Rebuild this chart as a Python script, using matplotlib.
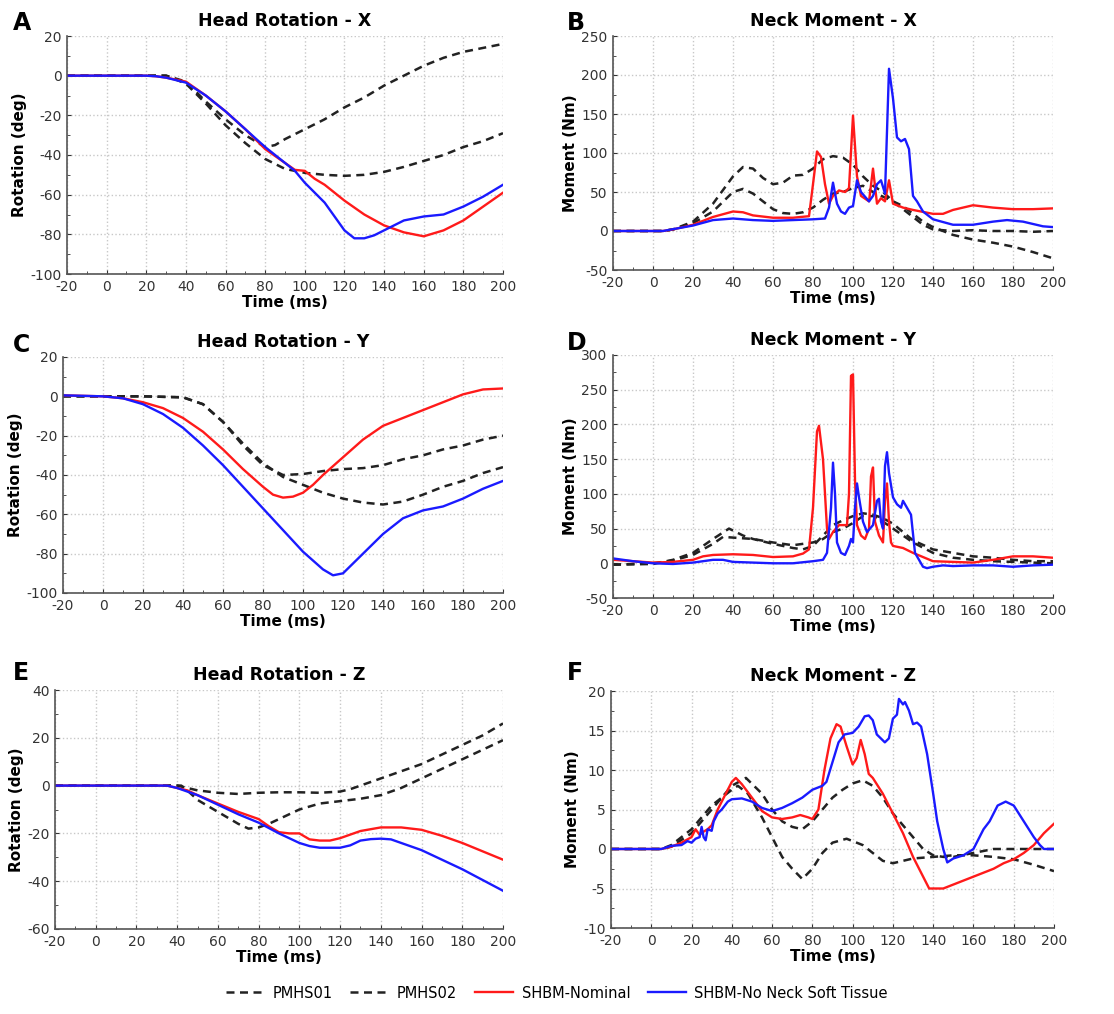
import numpy as np
import matplotlib
matplotlib.use("Agg")
import matplotlib.pyplot as plt
from matplotlib.ticker import MultipleLocator

# ---- data (time in ms) ----
# A : head rotation X
a_p1_t = [-20, 0, 20, 30, 40, 50, 60, 70, 80, 85, 90, 100, 110, 120, 130, 140, 150, 160, 170, 180, 190, 200]
a_p1_v = [0, 0, 0, 0, -3, -13, -22, -30, -36, -35, -32, -27, -22, -16, -11, -5, 0, 5, 9, 12, 14, 16]
a_p2_t = [-20, 0, 20, 30, 40, 50, 60, 70, 80, 90, 100, 110, 120, 130, 140, 150, 160, 170, 180, 190, 200]
a_p2_v = [0, 0, 0, 0, -4, -14, -25, -34, -42, -47, -49, -50, -50.5, -50, -48.5, -46, -43, -40, -36, -33, -29]
a_red_t = [-20, 0, 20, 25, 30, 40, 50, 60, 70, 80, 90, 95, 100, 105, 110, 120, 130, 140, 150, 160, 170, 180, 190, 200]
a_red_v = [0, 0, 0, -0.3, -1, -3, -10, -18, -27, -37, -44, -47.5, -48, -52, -55, -63, -70, -75.5, -79, -81, -78, -73, -66, -59]
a_blue_t = [-20, 0, 20, 25, 30, 40, 50, 60, 70, 80, 90, 95, 100, 110, 115, 120, 125, 130, 135, 140, 150, 160, 170, 180, 190, 200]
a_blue_v = [0, 0, 0, -0.3, -1, -3.5, -10, -18, -27, -36, -44, -48, -54, -64, -71, -78, -82, -82, -80.5, -78, -73, -71, -70, -66, -61, -55]

# B : neck moment X
b_p1_t = [-20, 5, 10, 20, 30, 40, 45, 50, 55, 60, 65, 70, 75, 80, 85, 90, 95, 100, 105, 110, 115, 120, 125, 130, 135, 140, 150, 160, 170, 180, 190, 200]
b_p1_v = [0, 0, 2, 12, 35, 70, 82, 80, 68, 60, 62, 71, 72, 80, 92, 96, 94, 85, 70, 58, 50, 38, 28, 18, 8, 2, 0, 1, 0, 0, -1, 0]
b_p2_t = [-20, 5, 10, 20, 30, 40, 45, 50, 55, 60, 65, 70, 75, 80, 85, 90, 95, 100, 105, 110, 115, 120, 125, 130, 135, 140, 150, 160, 170, 180, 190, 200]
b_p2_v = [0, 0, 2, 10, 25, 50, 54, 48, 38, 28, 23, 22, 24, 30, 40, 48, 50, 55, 58, 50, 44, 38, 32, 22, 12, 5, -5, -11, -15, -20, -27, -35]
b_red_t = [-20, 5, 10, 20, 30, 40, 45, 50, 60, 70, 78, 80, 82, 84, 86, 88, 90, 93, 96, 98, 100, 102, 104, 108, 110, 112, 114, 116, 118, 120, 125, 130, 140, 145, 150, 160, 170, 180, 190, 200]
b_red_v = [0, 0, 2, 8, 18, 25, 24, 20, 17, 17, 19, 60, 102, 95, 60, 35, 45, 52, 50, 55, 148, 70, 45, 38, 80, 35, 42, 38, 65, 35, 30, 27, 22, 22, 27, 33, 30, 28, 28, 29]
b_blue_t = [-20, 5, 20, 30, 40, 50, 60, 70, 80, 86, 88, 90, 92, 94, 96, 98, 100, 102, 104, 108, 110, 112, 114, 116, 118, 120, 122, 124, 126, 128, 130, 132, 135, 140, 150, 160, 170, 177, 185, 195, 200]
b_blue_v = [0, 0, 7, 14, 16, 14, 13, 14, 15, 16, 30, 62, 35, 25, 22, 30, 32, 65, 50, 38, 45, 60, 65, 48, 208, 170, 120, 115, 118, 105, 45, 38, 25, 15, 8, 8, 12, 14, 12, 6, 5]

# C : head rotation Y
c_p1_t = [-20, 0, 20, 40, 50, 60, 70, 80, 90, 100, 110, 120, 130, 140, 150, 160, 170, 180, 190, 200]
c_p1_v = [0, 0, 0, -0.5, -4, -13, -25, -35, -40, -39.5, -38, -37, -36.5, -35, -32, -30, -27, -25, -22, -20]
c_p2_t = [-20, 0, 20, 40, 50, 60, 70, 80, 90, 100, 110, 120, 130, 140, 150, 160, 170, 180, 190, 200]
c_p2_v = [0, 0, 0, -0.5, -4, -13, -24, -34, -41, -45, -49, -52, -54, -55, -53.5, -50, -46, -43, -39, -36]
c_red_t = [-20, 0, 10, 20, 30, 40, 50, 60, 70, 80, 85, 90, 95, 100, 105, 110, 120, 130, 140, 150, 160, 170, 180, 190, 200]
c_red_v = [0.5, 0, -1, -3, -6, -11, -18, -27, -37, -46, -50, -51.5, -51, -49, -45, -40, -31, -22, -15, -11, -7, -3, 1, 3.5, 4]
c_blue_t = [-20, 0, 10, 20, 30, 40, 50, 60, 70, 80, 90, 100, 110, 115, 120, 125, 130, 140, 150, 160, 170, 180, 190, 200]
c_blue_v = [0.5, 0, -1, -4, -9, -16, -25, -35, -46, -57, -68, -79, -88, -91, -90, -85, -80, -70, -62, -58, -56, -52, -47, -43]

# D : neck moment Y
d_p1_t = [-20, 0, 10, 20, 30, 38, 45, 50, 60, 70, 75, 80, 85, 90, 95, 100, 105, 110, 115, 120, 125, 130, 140, 150, 160, 170, 180, 190, 200]
d_p1_v = [-2, -1, 5, 15, 35, 50, 40, 35, 28, 22, 20, 25, 40, 55, 62, 68, 72, 70, 65, 57, 45, 33, 20, 15, 10, 8, 5, 3, 3]
d_p2_t = [-20, 0, 10, 20, 30, 35, 40, 50, 60, 70, 80, 85, 90, 95, 100, 105, 110, 115, 120, 125, 130, 140, 150, 160, 170, 180, 190, 200]
d_p2_v = [-2, 0, 4, 12, 28, 38, 37, 35, 30, 26, 30, 35, 45, 50, 58, 68, 68, 60, 50, 40, 30, 15, 8, 5, 3, 2, 1, 0]
d_red_t = [-20, 0, 10, 20, 25, 30, 40, 50, 60, 70, 75, 78, 80, 82, 83, 85, 87, 88, 90, 93, 97, 98, 99, 100, 101, 102, 104, 106, 108, 109, 110, 111, 113, 115, 116, 117, 118, 119, 120, 125, 130, 140, 150, 160, 170, 180, 190, 200]
d_red_v = [5, 1, 2, 5, 10, 12, 13, 12, 9, 10, 14, 20, 80, 190, 198, 150, 50, 35, 45, 55, 55, 100, 270, 272, 120, 55, 40, 35, 50, 125, 138, 60, 40, 30, 90, 115, 60, 30, 25, 22, 15, 3, 2, 1, 5, 10, 10, 8]
d_blue_t = [-20, -10, 0, 10, 20, 30, 35, 40, 50, 60, 70, 80, 85, 87, 89, 90, 91, 92, 94, 96, 98, 99, 100, 101, 102, 103, 105, 107, 110, 112, 113, 114, 115, 116, 117, 118, 120, 122, 124, 125, 127, 129, 131, 133, 135, 137, 140, 145, 150, 160, 170, 180, 190, 200]
d_blue_v = [7, 3, 0, -1, 1, 5, 5, 2, 1, 0, 0, 3, 5, 15, 80, 145, 100, 30, 15, 12, 25, 35, 30, 80, 115, 95, 60, 45, 55, 90, 93, 60, 50, 140, 160, 130, 95, 85, 80, 90, 80, 70, 15, 5, -5, -7, -5, -3, -4, -3, -3, -5, -3, -2]

# E : head rotation Z
e_p1_t = [-20, 0, 20, 40, 45, 50, 60, 70, 80, 90, 100, 110, 120, 125, 130, 140, 150, 160, 170, 180, 190, 200]
e_p1_v = [0, 0, 0, 0, -1, -2, -3, -3.5, -3, -2.8, -2.8, -3, -2.5, -1.5, 0, 3, 6, 9, 13, 17, 21, 26]
e_p2_t = [-20, 0, 20, 42, 45, 50, 60, 70, 75, 80, 85, 90, 100, 110, 120, 130, 140, 150, 160, 170, 180, 190, 200]
e_p2_v = [0, 0, 0, 0, -2, -6, -11, -16, -18, -17.5, -16, -14, -10, -7.5, -6.5, -5.5, -4, -1, 3, 7, 11, 15, 19]
e_red_t = [-20, 0, 20, 35, 40, 45, 50, 60, 70, 80, 85, 90, 95, 100, 103, 105, 110, 115, 120, 130, 140, 150, 160, 170, 180, 190, 200]
e_red_v = [0, 0, 0, 0, -1, -2, -4, -7.5, -11, -14, -17, -19.5, -20, -20, -21.5, -22.5, -23, -23, -22, -19, -17.5, -17.5, -18.5, -21, -24, -27.5, -31]
e_blue_t = [-20, 0, 20, 35, 40, 50, 60, 70, 80, 90, 100, 105, 110, 120, 125, 130, 135, 140, 145, 150, 160, 170, 180, 190, 200]
e_blue_v = [0, 0, 0, 0, -1, -4, -8, -12, -15.5, -20, -24, -25.3, -26, -26, -25, -23, -22.4, -22.2, -22.5, -24, -27, -31, -35, -39.5, -44]

# F : neck moment Z
f_p1_t = [-20, 5, 10, 20, 30, 40, 47, 55, 60, 65, 70, 75, 80, 85, 90, 95, 100, 105, 110, 115, 120, 125, 130, 135, 140, 145, 150, 160, 170, 180, 190, 200]
f_p1_v = [0, 0, 0.3, 2, 5, 8, 9, 7, 5, 3.5, 2.8, 2.5, 3.5, 5, 6.5, 7.5, 8.3, 8.7, 8, 6.5, 4.5, 3, 1.5, 0, -0.8, -1, -1, -0.5, 0, 0, 0, 0]
f_p2_t = [-20, 5, 10, 20, 30, 40, 43, 48, 55, 60, 65, 70, 75, 80, 85, 90, 97, 105, 110, 115, 120, 130, 140, 150, 160, 170, 180, 190, 200]
f_p2_v = [0, 0, 0.5, 2.5, 5.5, 7.5, 8, 7, 4, 1.5, -1, -2.5, -3.8, -2.5, -0.5, 0.8, 1.3, 0.5, -0.5, -1.5, -1.8, -1.2, -1, -0.8, -0.8, -1, -1.3, -2, -2.8]
f_red_t = [-20, 5, 10, 15, 20, 22, 24, 26, 28, 30, 33, 36, 40, 42, 45, 50, 55, 60, 65, 70, 74, 78, 80, 83, 86, 89, 92, 94, 97, 100, 102, 104, 106, 108, 110, 115, 120, 125, 130, 135, 138, 140, 145, 150, 155, 160, 165, 170, 175, 180, 185, 190, 195, 200]
f_red_v = [0, 0, 0.3, 0.8, 1.5, 2.5, 1.8, 2.2, 2.5, 3, 5, 6.5, 8.5, 9, 8.2, 6.5, 4.8, 4, 3.8, 4, 4.3, 4, 3.8, 5, 10, 14, 15.8, 15.5, 13, 10.7, 11.5, 13.8, 12, 9.5, 9, 7, 4.5, 2, -1, -3.5, -5, -5, -5, -4.5, -4, -3.5, -3, -2.5, -1.8, -1.3, -0.5, 0.5, 2, 3.2]
f_blue_t = [-20, 5, 10, 15, 18, 20, 22, 24, 25, 26, 27, 28, 30, 31, 33, 35, 38, 40, 45, 50, 55, 60, 65, 70, 75, 80, 85, 87, 90, 93, 96, 100, 103, 106, 108, 110, 112, 114, 116, 118, 120, 122, 123, 125, 126, 128, 130, 132, 134, 137, 140, 142, 145, 147, 150, 155, 160, 163, 165, 168, 172, 176, 180, 185, 190, 193, 195, 200]
f_blue_v = [0, 0, 0.4, 0.5, 1, 0.8, 1.3, 1.5, 2.8, 1.5, 1.1, 2.5, 2.3, 3.5, 4.5, 5, 6, 6.3, 6.4, 6, 5.2, 4.8, 5.2, 5.8, 6.5, 7.5, 8, 8.5, 11, 13.5, 14.5, 14.7, 15.5, 16.8, 16.9, 16.3, 14.5, 14, 13.5, 14, 16.5, 17, 19, 18.3, 18.6, 17.5, 15.8, 16, 15.5, 12, 7, 3.5, 0, -1.7, -1.2, -0.8, 0, 1.5, 2.5, 3.5, 5.5, 6, 5.5, 3.5, 1.5, 0.5, 0, 0]

panels = [
    ("A", "Head Rotation - X", "Rotation (deg)", (-100, 20), 20,
     (a_p1_t, a_p1_v), (a_p2_t, a_p2_v), (a_red_t, a_red_v), (a_blue_t, a_blue_v),
     (67, 503, 36, 274), (13, 23)),
    ("B", "Neck Moment - X", "Moment (Nm)", (-50, 250), 50,
     (b_p1_t, b_p1_v), (b_p2_t, b_p2_v), (b_red_t, b_red_v), (b_blue_t, b_blue_v),
     (613, 1053, 36, 270), (567, 23)),
    ("C", "Head Rotation - Y", "Rotation (deg)", (-100, 20), 20,
     (c_p1_t, c_p1_v), (c_p2_t, c_p2_v), (c_red_t, c_red_v), (c_blue_t, c_blue_v),
     (63, 503, 357, 593), (13, 345)),
    ("D", "Neck Moment - Y", "Moment (Nm)", (-50, 300), 50,
     (d_p1_t, d_p1_v), (d_p2_t, d_p2_v), (d_red_t, d_red_v), (d_blue_t, d_blue_v),
     (613, 1053, 355, 598), (567, 343)),
    ("E", "Head Rotation - Z", "Rotation (deg)", (-60, 40), 20,
     (e_p1_t, e_p1_v), (e_p2_t, e_p2_v), (e_red_t, e_red_v), (e_blue_t, e_blue_v),
     (55, 503, 690, 929), (13, 673)),
    ("F", "Neck Moment - Z", "Moment (Nm)", (-10, 20), 5,
     (f_p1_t, f_p1_v), (f_p2_t, f_p2_v), (f_red_t, f_red_v), (f_blue_t, f_blue_v),
     (611, 1054, 691, 928), (567, 673)),
]

W, H = 1114, 1014
plt.rcParams['font.family'] = ['DejaVu Sans']
plt.rcParams['axes.unicode_minus'] = False
fig = plt.figure(figsize=(W / 100, H / 100), dpi=100)

dash = (0, (3.2, 2.2))
handles = None
for letter, title, ylab, ylim, ystep, p1, p2, red, blue, box, lpos in panels:
    l, r, t, b = box
    ax = fig.add_axes([l / W, 1 - b / H, (r - l) / W, (b - t) / H])
    h1, = ax.plot(p1[0], p1[1], color="#222222", lw=1.8, ls=dash, label="PMHS01")
    h2, = ax.plot(p2[0], p2[1], color="#222222", lw=1.8, ls=dash, label="PMHS02")
    h3, = ax.plot(red[0], red[1], color="#ff1a1a", lw=1.7, label="SHBM-Nominal")
    h4, = ax.plot(blue[0], blue[1], color="#1a1aff", lw=1.7, label="SHBM-No Neck Soft Tissue")
    handles = [h1, h2, h3, h4]
    ax.set_xlim(-20, 200)
    ax.set_ylim(*ylim)
    ax.xaxis.set_major_locator(MultipleLocator(20))
    ax.xaxis.set_minor_locator(MultipleLocator(10))
    ax.yaxis.set_major_locator(MultipleLocator(ystep))
    ax.yaxis.set_minor_locator(MultipleLocator(ystep / 2))
    ax.grid(True, which="major", color="#c8c8c8", ls=":", lw=1.0)
    ax.tick_params(which="both", direction="in", labelsize=10, colors="#333333", pad=4)
    ax.tick_params(which="major", length=3)
    ax.tick_params(which="minor", length=2)
    for s in ["top", "right"]:
        ax.spines[s].set_visible(False)
    for s in ["left", "bottom"]:
        ax.spines[s].set_color("#555555")
        ax.spines[s].set_linewidth(1.2)
    ax.set_title(title, fontsize=12.5, fontweight="bold", pad=7)
    ax.set_xlabel("Time (ms)", fontsize=11, fontweight="bold", labelpad=1)
    ax.set_ylabel(ylab, fontsize=11, fontweight="bold", labelpad=2)
    fig.text(lpos[0] / W, 1 - lpos[1] / H, letter, fontsize=17, fontweight="bold", va="center", ha="left")

fig.legend(handles=handles, loc="center", bbox_to_anchor=(0.5, 1 - 993 / H), ncol=4,
           frameon=False, fontsize=10.5, handlelength=2.6, columnspacing=1.2, handletextpad=0.6)

fig.savefig("out.png", dpi=100)
